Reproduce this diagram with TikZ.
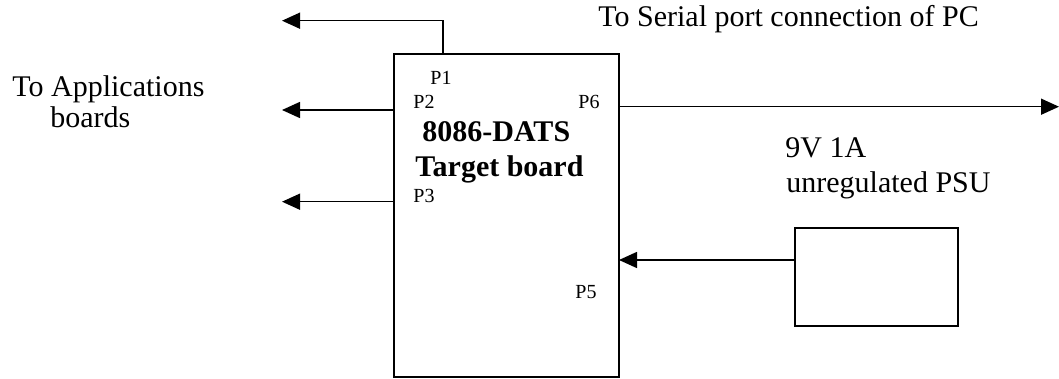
\documentclass[tikz,border=0pt]{standalone}
\usepackage{fontspec}
\setmainfont{Liberation Serif}
\usetikzlibrary{arrows.meta}
\begin{document}
\begin{tikzpicture}[x=0.5pt,y=-0.5pt,
  box/.style={draw,line width=0.75pt,inner sep=0pt,outer sep=0pt},
  arr/.style={line width=0.75pt,-{Triangle[length=9pt,width=8pt]}},
  txt/.style={anchor=base west,inner sep=0pt,font=\fontsize{15}{18}\selectfont},
  port/.style={anchor=base west,inner sep=0pt,font=\fontsize{10}{12}\selectfont},
  btxt/.style={anchor=base west,inner sep=0pt,font=\fontsize{15}{18}\selectfont\bfseries}]
\useasboundingbox (0,0) rectangle (1059,379);
% boxes
\node[box,minimum width=112.5pt,minimum height=161.5pt] (board) at (506.5,215.5) {};
\node[box,minimum width=81.5pt,minimum height=49pt] (psu) at (876.5,277) {};
% labels inside board
\node[port] (p1) at (430,85) {P1};
\node[port] (p2) at (413,108.5) {P2};
\node[port] (p6) at (578,108.5) {P6};
\node[port] (p3) at (413,203) {P3};
\node[port] (p5) at (575,298) {P5};
\node[btxt] (t1) at (422,142) {8086-DATS};
\node[btxt] (t2) at (415,177) {Target board};
% outside texts
\node[txt] (app1) at (12,97) {To Applications};
\node[txt] (app2) at (50,128) {boards};
\node[txt] (pc) at (598,27) {To Serial port connection of PC};
\node[txt] (v1) at (785,158) {9V 1A};
\node[txt] (v2) at (786,193) {unregulated PSU};
% connector ends
\coordinate (e1) at (282,20.7);
\coordinate (e2) at (282,110);
\coordinate (e3) at (282,201.7);
\coordinate (e6) at (1059,106.7);
\coordinate (in5) at (619,260);
% connectors
\draw[arr] ([xshift=24.5pt]board.north west) |- (e1);
\draw[arr] (board.west |- e2) -- (e2);
\draw[arr] (board.west |- e3) -- (e3);
\draw[arr] (board.east |- e6) -- (e6);
\draw[arr] (psu.west |- in5) -- (in5);
\end{tikzpicture}
\end{document}
